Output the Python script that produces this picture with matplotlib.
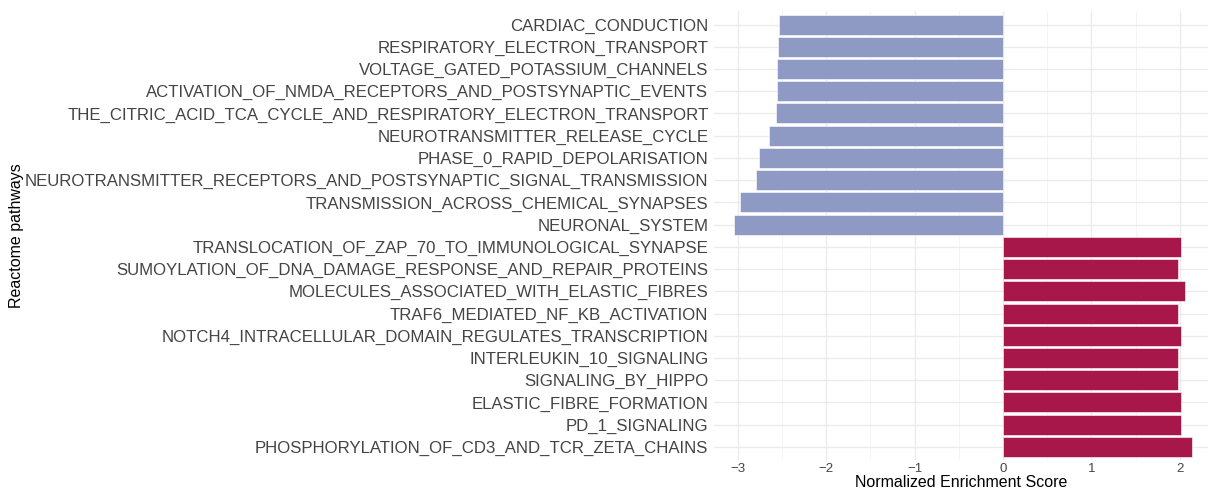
import matplotlib
matplotlib.use("Agg")
import matplotlib.pyplot as plt
from matplotlib.ticker import MultipleLocator

# Reactome pathways, top to bottom
pathways = [
    "CARDIAC_CONDUCTION",
    "RESPIRATORY_ELECTRON_TRANSPORT",
    "VOLTAGE_GATED_POTASSIUM_CHANNELS",
    "ACTIVATION_OF_NMDA_RECEPTORS_AND_POSTSYNAPTIC_EVENTS",
    "THE_CITRIC_ACID_TCA_CYCLE_AND_RESPIRATORY_ELECTRON_TRANSPORT",
    "NEUROTRANSMITTER_RELEASE_CYCLE",
    "PHASE_0_RAPID_DEPOLARISATION",
    "NEUROTRANSMITTER_RECEPTORS_AND_POSTSYNAPTIC_SIGNAL_TRANSMISSION",
    "TRANSMISSION_ACROSS_CHEMICAL_SYNAPSES",
    "NEURONAL_SYSTEM",
    "TRANSLOCATION_OF_ZAP_70_TO_IMMUNOLOGICAL_SYNAPSE",
    "SUMOYLATION_OF_DNA_DAMAGE_RESPONSE_AND_REPAIR_PROTEINS",
    "MOLECULES_ASSOCIATED_WITH_ELASTIC_FIBRES",
    "TRAF6_MEDIATED_NF_KB_ACTIVATION",
    "NOTCH4_INTRACELLULAR_DOMAIN_REGULATES_TRANSCRIPTION",
    "INTERLEUKIN_10_SIGNALING",
    "SIGNALING_BY_HIPPO",
    "ELASTIC_FIBRE_FORMATION",
    "PD_1_SIGNALING",
    "PHOSPHORYLATION_OF_CD3_AND_TCR_ZETA_CHAINS",
]
nes = [
    -2.53, -2.545, -2.56, -2.56, -2.57,
    -2.65, -2.76, -2.79, -2.98, -3.04,
    2.01, 1.98, 2.055, 1.98, 2.01,
    1.98, 1.98, 2.01, 2.01, 2.14,
]
x_ticks = [-3, -2, -1, 0, 1, 2]

NEG_COLOR = "#8F9AC4"
POS_COLOR = "#A8174A"

plt.rcParams["font.family"] = ["Liberation Sans", "DejaVu Sans"]

W, H = 1208, 490
left_px, top_px, bottom_px = 714, 11.2, 460.3

fig = plt.figure(figsize=(W / 100, H / 100), dpi=100)
ax = fig.add_axes([left_px / W, 1 - bottom_px / H, 1 - left_px / W, (bottom_px - top_px) / H])

ypos = list(range(len(pathways)))
colors = [NEG_COLOR if v < 0 else POS_COLOR for v in nes]
ax.barh(ypos, nes, height=0.9, color=colors, edgecolor="white", linewidth=0.4, zorder=3)

ax.set_ylim(len(pathways) - 0.4, -0.6)
ax.set_xlim(-3.27, 2.32)
ax.set_yticks(ypos)
ax.set_yticklabels(pathways)
ax.set_xticks(x_ticks)
ax.xaxis.set_minor_locator(MultipleLocator(0.5))

ax.grid(True, which="major", axis="both", color="#EBEBEB", linewidth=1.0, zorder=0)
ax.grid(True, which="minor", axis="x", color="#F3F3F3", linewidth=0.6, zorder=0)
ax.set_axisbelow(True)
for s in ax.spines.values():
    s.set_visible(False)
ax.tick_params(axis="both", which="both", length=0, labelcolor="#444444")
ax.tick_params(axis="y", labelsize=12.1, pad=4)
ax.tick_params(axis="x", labelsize=9.5, pad=2)

ax.set_xlabel("Normalized Enrichment Score", fontsize=11.5, labelpad=0)
ax.set_ylabel("Reactome pathways", fontsize=11.5)
ax.yaxis.set_label_coords((24 - left_px) / (W - left_px), 0.5)

fig.savefig("out.png", dpi=100)
